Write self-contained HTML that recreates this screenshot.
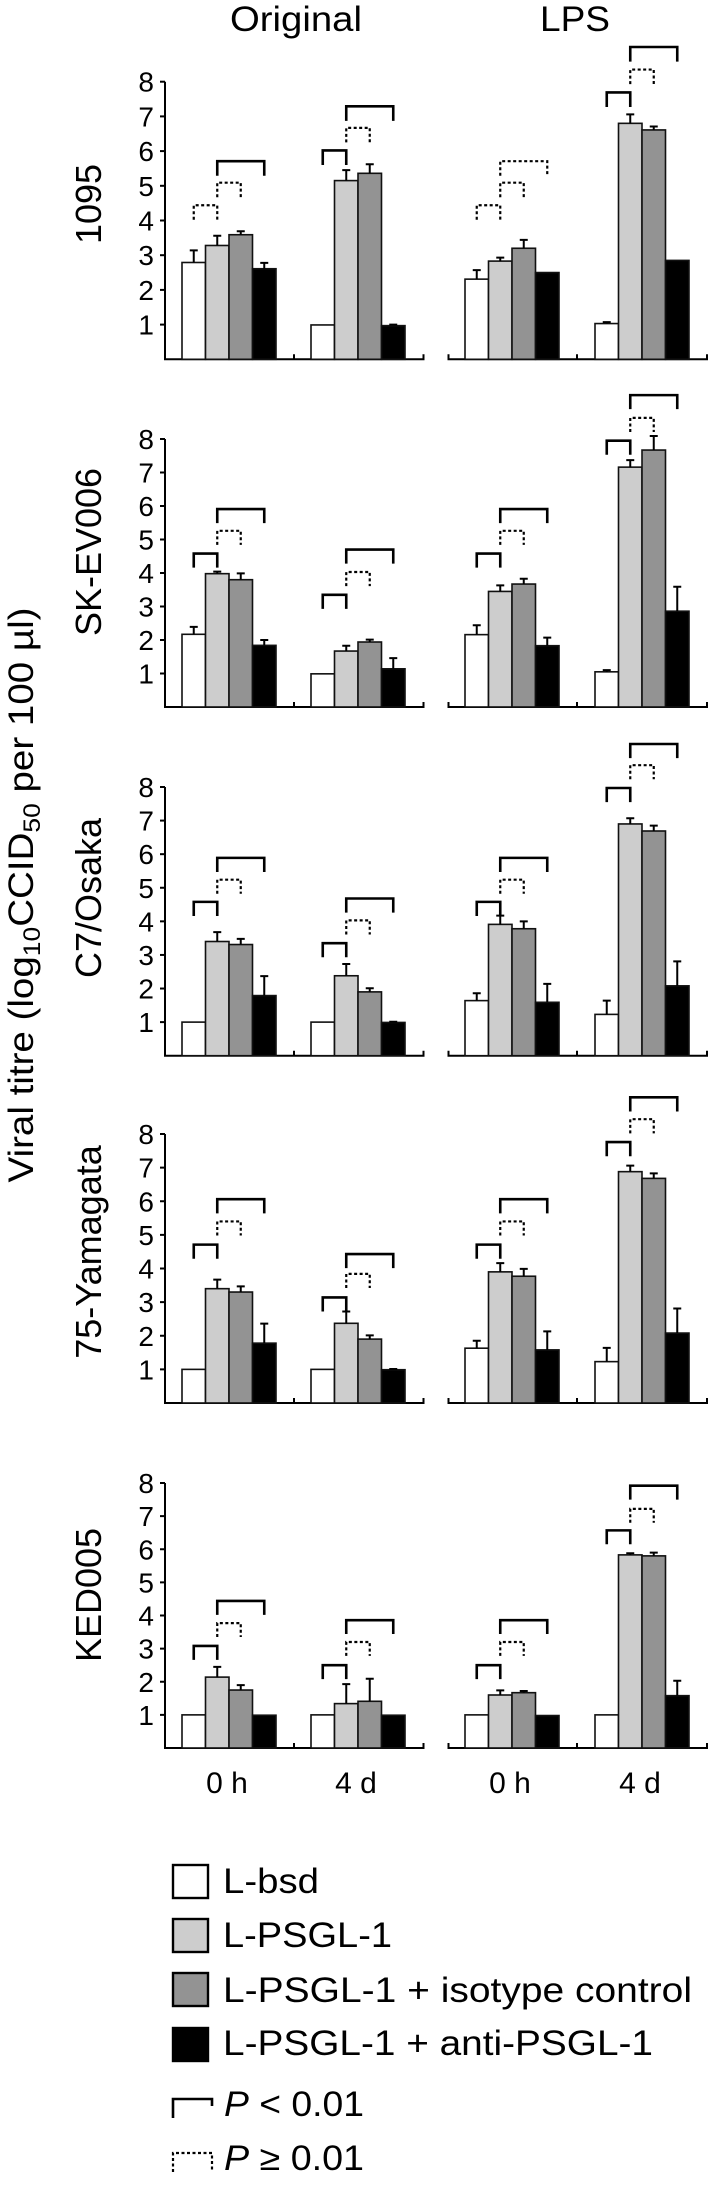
<!DOCTYPE html>
<html><head><meta charset="utf-8"><style>
html,body{margin:0;padding:0;background:#fff;}
svg{display:block;}
text{font-family:"Liberation Sans",sans-serif;fill:#000;}
</style></head><body>
<svg id="chart" width="709" height="2189" viewBox="0 0 709 2189" xmlns="http://www.w3.org/2000/svg">
<text x="296" y="31" font-size="35" text-anchor="middle" textLength="132" lengthAdjust="spacingAndGlyphs">Original</text>
<text x="575" y="31" font-size="35" text-anchor="middle" textLength="70" lengthAdjust="spacingAndGlyphs">LPS</text>
<text transform="translate(33,895) rotate(-90)" font-size="35" text-anchor="middle" textLength="575" lengthAdjust="spacingAndGlyphs">Viral titre (log<tspan font-size="24" dy="7">10</tspan><tspan dy="-7">CCID</tspan><tspan font-size="24" dy="7">50</tspan><tspan dy="-7"> per 100 µl)</tspan></text>
<g id="panels"></g>
<g id="legend"></g>
</svg>
<script>
const strains = ["1095","SK-EV006","C7/Osaka","75-Yamagata","KED005"];
const groups = ["Original 0 h","Original 4 d","LPS 0 h","LPS 4 d"];
const xLabels = ["0 h","4 d","0 h","4 d"];
const yTicks = [1,2,3,4,5,6,7,8];
const series = ["L-bsd","L-PSGL-1","L-PSGL-1 + isotype control","L-PSGL-1 + anti-PSGL-1"];
// values[strain][group] = [bsd, PSGL, iso, anti]
const values1095 = [[2.79,3.28,3.59,2.61],[0.99,5.15,5.36,0.97],[2.31,2.83,3.2,2.5],[1.03,6.8,6.61,2.85]];
const errors1095 = [[0.35,0.28,0.1,0.17],[0,0.3,0.26,0.03],[0.26,0.1,0.24,0],[0.04,0.26,0.1,0]];
const valuesSK = [[2.17,3.98,3.8,1.84],[0.99,1.67,1.94,1.14],[2.16,3.45,3.67,1.83],[1.05,7.16,7.67,2.86]];
const errorsSK = [[0.22,0.06,0.19,0.16],[0,0.16,0.07,0.32],[0.28,0.18,0.16,0.24],[0.05,0.21,0.42,0.73]];
const valuesC7 = [[1.0,3.4,3.31,1.79],[1.0,2.38,1.9,0.99],[1.64,3.91,3.78,1.59],[1.23,6.9,6.69,2.08]];
const errorsC7 = [[0,0.28,0.17,0.58],[0,0.35,0.11,0.02],[0.22,0.26,0.22,0.55],[0.41,0.17,0.16,0.73]];
const values75 = [[1.0,3.4,3.3,1.78],[1.0,2.37,1.9,0.99],[1.63,3.9,3.77,1.58],[1.23,6.88,6.68,2.08]];
const errors75 = [[0,0.27,0.17,0.58],[0,0.35,0.11,0.02],[0.22,0.26,0.22,0.55],[0.41,0.18,0.15,0.73]];
const valuesKED = [[1.0,2.14,1.75,0.99],[1.0,1.34,1.41,0.99],[1.0,1.6,1.67,0.98],[1.0,5.83,5.8,1.58]];
const errorsKED = [[0,0.31,0.15,0],[0,0.59,0.68,0],[0,0.14,0.05,0],[0,0.05,0.1,0.45]];
// bracket tops (units) per group: [bsd-PSGL, PSGL-iso, PSGL-anti]
const brackets1095 = [[4.44,5.09,5.71],[6.02,6.67,7.29],[4.44,5.09,5.71],[7.69,8.35,9.0]];
const solid1095 = [[0,0,1],[1,0,1],[0,0,0],[1,0,1]];
const bracketsSK = [[4.58,5.26,5.91],[3.35,4.03,4.7],[4.58,5.26,5.91],[7.95,8.63,9.31]];
const bracketsC7 = [[4.58,5.24,5.89],[3.35,4.03,4.68],[4.58,5.24,5.89],[7.97,8.65,9.28]];
const brackets75 = [[4.71,5.4,6.06],[3.14,3.84,4.43],[4.71,5.4,6.06],[7.76,8.44,9.09]];
const bracketsKED = [[3.08,3.77,4.44],[2.5,3.2,3.86],[2.5,3.2,3.86],[6.57,7.22,7.92]];
const solidStd = [[1,0,1],[1,0,1],[1,0,1],[1,0,1]];

const allValues=[values1095,valuesSK,valuesC7,values75,valuesKED];
const allErrors=[errors1095,errorsSK,errorsC7,errors75,errorsKED];
const allBrackets=[brackets1095,bracketsSK,bracketsC7,brackets75,bracketsKED];
const allSolid=[solid1095,solidStd,solidStd,solidStd,solidStd];

const NS="http://www.w3.org/2000/svg";
const fills=["#ffffff","#cdcdcd","#939393","#000000"];
const panelTop=[81.7,439,787,1134,1483];
const panelBase=[359.3,707,1055.7,1403,1748];
const labelY=[204,552,898,1252,1595];
const groupX=[182,311,465,595];
const barW=23.5;
function mk(tag,attrs,parent){const e=document.createElementNS(NS,tag);for(const k in attrs)e.setAttribute(k,attrs[k]);parent.appendChild(e);return e;}
const root=document.getElementById('panels');
strains.forEach((s,p)=>{
  const unit=(panelBase[p]-panelTop[p])/8;
  const y=v=>panelBase[p]-v*unit;
  const bx=(g,i)=>groupX[g]+i*barW;
  const g0=mk('g',{},root);
  
  
  const lab=mk('text',{x:0,y:0,'font-size':36,'text-anchor':'middle',transform:`translate(101,${labelY[p]}) rotate(-90)`},g0);
  lab.textContent=s;
  
  
  // axes
  const ax=mk('path',{d:`M165,${y(8)} V${panelBase[p]} H423.5 V${panelBase[p]-5} M294,${panelBase[p]} V${panelBase[p]-5} M448.5,${panelBase[p]-5} V${panelBase[p]} H707 V${panelBase[p]-5} M577,${panelBase[p]} V${panelBase[p]-5}`,fill:'none',stroke:'#000','stroke-width':2},g0);
  
  
  yTicks.forEach(t=>{
    const tk=mk('line',{x1:160,x2:165,y1:y(t),y2:y(t),stroke:'#000','stroke-width':2},g0);
    
    
    const tl=mk('text',{x:154,y:y(t)+10,'font-size':28,'text-anchor':'end'},g0);
    tl.textContent=t;
    
    
  });
  groups.forEach((gname,g)=>{
    allValues[p][g].forEach((v,i)=>{
      const r=mk('rect',{x:bx(g,i),y:y(v),width:barW,height:v*unit,fill:fills[i],stroke:'#111','stroke-width':1.6},g0);
      
      
      const e=allErrors[p][g][i];
      if(e>0.015){
        const cx=bx(g,i)+barW/2;
        const eb=mk('path',{d:`M${cx},${y(v)} V${y(v+e)} M${cx-4},${y(v+e)} H${cx+4}`,stroke:'#000','stroke-width':2,fill:'none'},g0);
        
        
      }
    });
    const pairs=[[0,1],[1,2],[1,3]];
    allBrackets[p][g].forEach((t,k)=>{
      const a=bx(g,pairs[k][0])+barW/2, b=bx(g,pairs[k][1])+barW/2;
      const solid=allSolid[p][g][k];
      const leg=0.42*unit;
      const br=mk('path',{d:`M${a},${y(t)+leg} V${y(t)} H${b} V${y(t)+leg}`,fill:'none',stroke:'#000','stroke-width':solid?2.6:2.2},g0);
      if(!solid)br.setAttribute('stroke-dasharray','3,2.5');
      
      
    });
    if(p===4){
      const xl=mk('text',{x:groupX[g]+2*barW-2,y:1793,'font-size':30,'text-anchor':'middle'},g0);
      xl.textContent=xLabels[g];
      
      
    }
  });
});
// legend
const lg=document.getElementById('legend');
const legY=[1864,1918,1972,2027];
const legBase=[1893,1947,2002,2055];
const legLen=[96,169,469,430];
series.forEach((s,i)=>{
  const r=mk('rect',{x:173,y:legY[i]+1,width:35,height:33,fill:fills[i],stroke:'#000','stroke-width':2.4},lg);
  
  
  const t=mk('text',{x:223,y:legBase[i],'font-size':35,textLength:legLen[i],lengthAdjust:'spacingAndGlyphs'},lg);
  t.textContent=s;
  
  
});
const b1=mk('path',{d:'M173,2118 V2099 H212 V2106',fill:'none',stroke:'#000','stroke-width':2.6},lg);


const b2=mk('path',{d:'M173,2172 V2153 H212 V2172',fill:'none',stroke:'#000','stroke-width':2.2,'stroke-dasharray':'3,2.5'},lg);


const t1=mk('text',{x:224,y:2116,'font-size':35,textLength:140,lengthAdjust:'spacingAndGlyphs'},lg);
t1.innerHTML='<tspan font-style="italic">P</tspan> &lt; 0.01';


const t2=mk('text',{x:224,y:2170,'font-size':35,textLength:140,lengthAdjust:'spacingAndGlyphs'},lg);
t2.innerHTML='<tspan font-style="italic">P</tspan> ≥ 0.01';


</script>
</body></html>
